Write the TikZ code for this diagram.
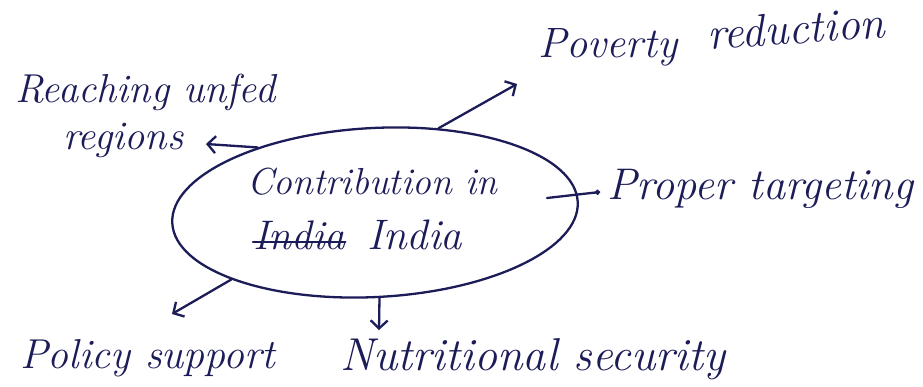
\documentclass[tikz,border=0pt]{standalone}
\usepackage{graphicx}
\usetikzlibrary{shapes.geometric,arrows.meta}
\definecolor{ink}{RGB}{28,28,88}
\newcommand{\fitw}[2]{\resizebox{#1}{!}{#2}}
\begin{document}
\begin{tikzpicture}[x=1pt,y=-1pt,
  ink line/.style={draw=ink,line width=2.3pt,line cap=round,line join=round},
  barb/.style={ink line,-{Straight Barb[length=8pt,width=17pt]}},
  dotarr/.style={ink line,-{Circle[length=5pt]}},
  lbl/.style={text=ink,font=\fontsize{30}{34}\selectfont\itshape,inner sep=0pt,anchor=base west},
  hub/.style={ink line,ellipse,minimum width=406pt,minimum height=169pt,inner sep=0pt}]
\useasboundingbox[fill=white] (0,0) rectangle (923,387);

% central ellipse
\node[hub,rotate=3] (c) at (375,212.5) {};
\node[lbl] (c1) at (247,195) {\fitw{250pt}{Contribution in}};
\node[lbl] (cs) at (253,250) {\fitw{92pt}{India}};
\node[lbl] (c2) at (367,250) {\fitw{95pt}{India}};
\draw[ink line] ([yshift=8pt]cs.base west) -- ([yshift=8pt]cs.base east);

% labels
\node[lbl] (r1) at (15,103) {\fitw{260pt}{Reaching unfed}};
\node[lbl] (r2) at (63,150) {\fitw{120pt}{regions}};
\node[lbl] (p1) at (538,58) {\fitw{139pt}{Poverty}};
\node[lbl,rotate=4] (p2) at (708,50) {\fitw{178pt}{reduction}};
\node[lbl] (pt) at (607,200) {\fitw{306pt}{Proper targeting}};
\node[lbl] (ps) at (20,368) {\fitw{255pt}{Policy support}};
\node[lbl] (ns) at (340,370) {\fitw{385pt}{Nutritional security}};

% arrow ends
\coordinate (rtip) at (206,144);
\coordinate (ptip) at (517,84);
\coordinate (tin) at (547,198);
\coordinate (ttip) at (600,192);
\coordinate (stip) at (172,314);
\coordinate (ntip) at (379,330);

% connectors
\draw[barb] (c.148) -- (rtip);
\draw[barb] (c.50) -- (ptip);
\draw[dotarr] (tin) -- (ttip);
\draw[barb] (c.202) -- (stip);
\draw[barb] (c.270) -- (ntip);
\end{tikzpicture}
\end{document}
